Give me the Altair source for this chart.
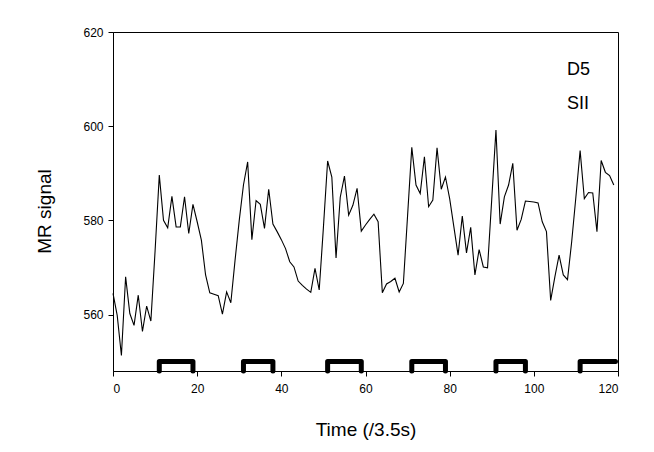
import altair as alt
import pandas as pd

# ---- data ----
time_points = list(range(120))
mr_signal = [
    564.5, 559.8, 551.3, 568.0, 560.2, 557.7, 564.1, 556.4, 561.8, 558.6,
    573.5, 589.6, 580.0, 578.4, 585.1, 578.6, 578.6, 585.0, 577.2, 583.4,
    579.7, 575.8, 568.4, 564.6, 564.3, 564.0, 560.1, 564.8, 562.5, 571.5,
    580.0, 587.5, 592.4, 575.9, 584.2, 583.4, 578.3, 586.6, 579.2, 577.6,
    575.9, 574.0, 571.2, 570.1, 567.1, 566.2, 565.4, 564.7, 569.8, 565.2,
    578.5, 592.6, 589.2, 572.0, 584.9, 589.4, 581.1, 583.2, 586.8, 577.7,
    579.0, 580.2, 581.3, 579.7, 564.6, 566.5, 567.0, 567.7, 564.8, 566.6,
    581.0, 595.5, 587.5, 585.7, 593.5, 582.9, 584.3, 595.4, 586.6, 589.2,
    584.6, 578.6, 572.6, 580.9, 573.1, 578.5, 568.4, 573.8, 570.1, 569.9,
    584.5, 599.2, 579.2, 585.0, 587.5, 592.1, 577.9, 580.2, 584.1, 584.0,
    583.9, 583.7, 579.7, 577.6, 563.0, 568.0, 572.6, 568.4, 567.4, 575.5,
    585.0, 594.8, 584.6, 585.9, 585.8, 577.6, 592.7, 590.2, 589.5, 587.5,
]
block_starts = [11, 31, 51, 71, 91, 111]
block_ends = [19, 38, 59, 79, 98, 119.4]
block_closed = [True, True, True, True, True, False]
block_base = 548
block_top = 550
x_ticks = [0, 20, 40, 60, 80, 100, 120]
y_ticks = [560, 580, 600, 620]
annotations = ["D5", "SII"]

FONT = "Liberation Sans"

df = pd.DataFrame({"t": time_points, "s": mr_signal})

rows = []
for i, (a, b) in enumerate(zip(block_starts, block_ends)):
    pts = [(a, block_base), (a, block_top), (b, block_top)]
    if block_closed[i]:
        pts.append((b, block_base))
    for k, (xv, yv) in enumerate(pts):
        rows.append({"block": i, "ord": k, "t": xv, "s": yv})
blocks = pd.DataFrame(rows)

x_enc = alt.X(
    "t:Q",
    scale=alt.Scale(domain=[0, 120], nice=False, zero=False),
    axis=alt.Axis(
        values=x_ticks, title="Time (/3.5s)", grid=False, tickSize=5,
        labelPadding=7, titleY=58, titleBaseline="middle",
    ),
)
y_enc = alt.Y(
    "s:Q",
    scale=alt.Scale(domain=[548, 620], nice=False, zero=False),
    axis=alt.Axis(
        values=y_ticks, title="MR signal", grid=False, tickSize=5,
        labelPadding=5, titleX=-69, titleY=179, titleBaseline="middle",
        titleAlign="center", titleAngle=-90,
    ),
)

line = alt.Chart(df).mark_line(color="black", strokeWidth=1.1).encode(
    x=x_enc, y=y_enc, order="t:Q"
)

brackets = alt.Chart(blocks).mark_line(
    color="black", strokeWidth=5, strokeCap="round", strokeJoin="round"
).encode(
    x="t:Q", y="s:Q", detail="block:N", order="ord:Q"
)

txt1 = alt.Chart(df.head(1)).mark_text(
    align="left", baseline="middle", fontSize=18, font=FONT, color="black"
).encode(x=alt.value(454), y=alt.value(38), text=alt.value(annotations[0]))
txt2 = alt.Chart(df.head(1)).mark_text(
    align="left", baseline="middle", fontSize=18, font=FONT, color="black"
).encode(x=alt.value(454), y=alt.value(72), text=alt.value(annotations[1]))

chart = alt.layer(line, brackets, txt1, txt2).properties(
    width=505,
    height=339,
    padding={"left": 105, "top": 24, "right": 28, "bottom": 73},
    autosize=alt.AutoSizeParams(type="none"),
    background="white",
).configure_view(
    stroke="black", strokeWidth=1
).configure_axis(
    domainColor="black", tickColor="black", labelColor="black",
    titleColor="black", labelFont=FONT, titleFont=FONT,
    labelFontSize=12, titleFontSize=19, titleFontWeight="normal",
    domainWidth=1, tickWidth=1,
)

chart.save("out.html", embed_options={"renderer": "svg", "actions": False})
